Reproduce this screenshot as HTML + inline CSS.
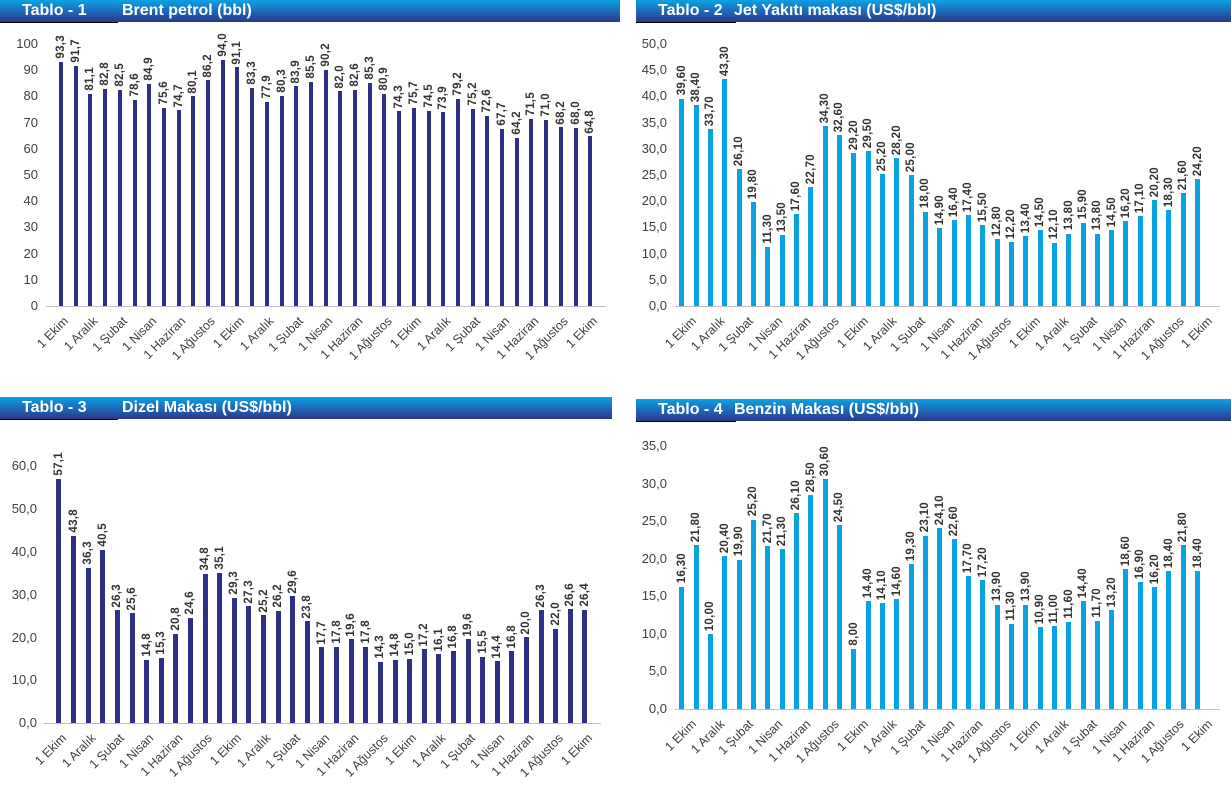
<!DOCTYPE html>
<html><head><meta charset="utf-8"><style>
body{margin:0;width:1231px;height:806px;background:#fff;position:relative;overflow:hidden;font-family:"Liberation Sans",Arial,sans-serif}
.hd{position:absolute;height:22px;background:linear-gradient(#0aa3e2,#1d6fbf 45%,#2a3888);color:#fff;font-weight:bold;font-size:16px;line-height:21px}
.hd b{position:absolute;left:22px}
.hd em{font-style:normal;position:absolute;left:122px}
.ul{position:absolute;height:1px;background:#000}
.bars{position:absolute;display:flex;align-items:flex-end}
.c{flex:1;display:flex;flex-direction:column;align-items:center;justify-content:flex-end}
.c span{writing-mode:vertical-rl;transform:rotate(180deg);font-size:11.5px;font-weight:bold;color:#333;margin-bottom:3px;white-space:nowrap;letter-spacing:0.3px}
.c i{display:block;width:var(--w);height:calc(var(--v)*var(--s));background:var(--col)}
.yl{position:absolute;width:60px;text-align:right;font-size:13px;color:#404040;height:16px;line-height:16px}
.xl{position:absolute;display:flex}
.xl div{flex:1;position:relative;height:10px}
.xl span{position:absolute;right:50%;top:0;white-space:nowrap;font-size:12.5px;color:#404040;transform-origin:100% 0;transform:rotate(-45deg)}
.ax{position:absolute;height:1px;background:#bfbfbf}
</style></head><body>

<div class="hd" style="left:0;top:0;width:620px"><b>Tablo - 1</b><em>Brent petrol (bbl)</em></div>
<div class="ul" style="left:0;top:22px;width:118px"></div>
<div class="hd" style="left:636px;top:0;width:595px"><b>Tablo - 2</b><em style="left:98px">Jet Yakıtı makası (US$/bbl)</em></div>
<div class="ul" style="left:636px;top:22px;width:100px"></div>
<div class="hd" style="left:0;top:397px;width:612px"><b>Tablo - 3</b><em>Dizel Makası (US$/bbl)</em></div>
<div class="ul" style="left:0;top:419px;width:118px"></div>
<div class="hd" style="left:636px;top:399px;width:595px"><b>Tablo - 4</b><em style="left:98px">Benzin Makası (US$/bbl)</em></div>
<div class="ul" style="left:636px;top:421px;width:100px"></div>

<!-- Chart 1 -->
<div class="ax" style="left:46px;top:306px;width:560px"></div>
<div class="yl" style="left:-22px;top:298px">0</div>
<div class="yl" style="left:-22px;top:272px">10</div>
<div class="yl" style="left:-22px;top:246px">20</div>
<div class="yl" style="left:-22px;top:219px">30</div>
<div class="yl" style="left:-22px;top:193px">40</div>
<div class="yl" style="left:-22px;top:167px">50</div>
<div class="yl" style="left:-22px;top:141px">60</div>
<div class="yl" style="left:-22px;top:115px">70</div>
<div class="yl" style="left:-22px;top:88px">80</div>
<div class="yl" style="left:-22px;top:62px">90</div>
<div class="yl" style="left:-22px;top:36px">100</div>
<div class="bars" style="left:53.65px;top:0;width:543.9px;height:306px;--s:2.62px;--w:4px;--col:#2e3087">
<div class="c" style="--v:93.3"><span>93,3</span><i></i></div>
<div class="c" style="--v:91.7"><span>91,7</span><i></i></div>
<div class="c" style="--v:81.1"><span>81,1</span><i></i></div>
<div class="c" style="--v:82.8"><span>82,8</span><i></i></div>
<div class="c" style="--v:82.5"><span>82,5</span><i></i></div>
<div class="c" style="--v:78.6"><span>78,6</span><i></i></div>
<div class="c" style="--v:84.9"><span>84,9</span><i></i></div>
<div class="c" style="--v:75.6"><span>75,6</span><i></i></div>
<div class="c" style="--v:74.7"><span>74,7</span><i></i></div>
<div class="c" style="--v:80.1"><span>80,1</span><i></i></div>
<div class="c" style="--v:86.2"><span>86,2</span><i></i></div>
<div class="c" style="--v:94.0"><span>94,0</span><i></i></div>
<div class="c" style="--v:91.1"><span>91,1</span><i></i></div>
<div class="c" style="--v:83.3"><span>83,3</span><i></i></div>
<div class="c" style="--v:77.9"><span>77,9</span><i></i></div>
<div class="c" style="--v:80.3"><span>80,3</span><i></i></div>
<div class="c" style="--v:83.9"><span>83,9</span><i></i></div>
<div class="c" style="--v:85.5"><span>85,5</span><i></i></div>
<div class="c" style="--v:90.2"><span>90,2</span><i></i></div>
<div class="c" style="--v:82.0"><span>82,0</span><i></i></div>
<div class="c" style="--v:82.6"><span>82,6</span><i></i></div>
<div class="c" style="--v:85.3"><span>85,3</span><i></i></div>
<div class="c" style="--v:80.9"><span>80,9</span><i></i></div>
<div class="c" style="--v:74.3"><span>74,3</span><i></i></div>
<div class="c" style="--v:75.7"><span>75,7</span><i></i></div>
<div class="c" style="--v:74.5"><span>74,5</span><i></i></div>
<div class="c" style="--v:73.9"><span>73,9</span><i></i></div>
<div class="c" style="--v:79.2"><span>79,2</span><i></i></div>
<div class="c" style="--v:75.2"><span>75,2</span><i></i></div>
<div class="c" style="--v:72.6"><span>72,6</span><i></i></div>
<div class="c" style="--v:67.7"><span>67,7</span><i></i></div>
<div class="c" style="--v:64.2"><span>64,2</span><i></i></div>
<div class="c" style="--v:71.5"><span>71,5</span><i></i></div>
<div class="c" style="--v:71.0"><span>71,0</span><i></i></div>
<div class="c" style="--v:68.2"><span>68,2</span><i></i></div>
<div class="c" style="--v:68.0"><span>68,0</span><i></i></div>
<div class="c" style="--v:64.8"><span>64,8</span><i></i></div>
</div>
<div class="xl" style="left:46.3px;top:314px;width:558.6px">
<div><span>1 Ekim</span></div><div><span>1 Aralık</span></div><div><span>1 Şubat</span></div><div><span>1 Nisan</span></div><div><span>1 Haziran</span></div><div><span>1 Ağustos</span></div>
<div><span>1 Ekim</span></div><div><span>1 Aralık</span></div><div><span>1 Şubat</span></div><div><span>1 Nisan</span></div><div><span>1 Haziran</span></div><div><span>1 Ağustos</span></div>
<div><span>1 Ekim</span></div><div><span>1 Aralık</span></div><div><span>1 Şubat</span></div><div><span>1 Nisan</span></div><div><span>1 Haziran</span></div><div><span>1 Ağustos</span></div>
<div><span>1 Ekim</span></div>
</div>

<!-- Chart 2 -->
<div class="ax" style="left:675px;top:306px;width:545px"></div>
<div class="yl" style="left:607px;top:298px">0,0</div>
<div class="yl" style="left:607px;top:272px">5,0</div>
<div class="yl" style="left:607px;top:246px">10,0</div>
<div class="yl" style="left:607px;top:219px">15,0</div>
<div class="yl" style="left:607px;top:193px">20,0</div>
<div class="yl" style="left:607px;top:167px">25,0</div>
<div class="yl" style="left:607px;top:141px">30,0</div>
<div class="yl" style="left:607px;top:115px">35,0</div>
<div class="yl" style="left:607px;top:88px">40,0</div>
<div class="yl" style="left:607px;top:62px">45,0</div>
<div class="yl" style="left:607px;top:36px">50,0</div>
<div class="bars" style="left:674.67px;top:0;width:530.3px;height:306px;--s:5.24px;--w:5px;--col:#0aa3e2">
<div class="c" style="--v:39.6"><span>39,60</span><i></i></div>
<div class="c" style="--v:38.4"><span>38,40</span><i></i></div>
<div class="c" style="--v:33.7"><span>33,70</span><i></i></div>
<div class="c" style="--v:43.3"><span>43,30</span><i></i></div>
<div class="c" style="--v:26.1"><span>26,10</span><i></i></div>
<div class="c" style="--v:19.8"><span>19,80</span><i></i></div>
<div class="c" style="--v:11.3"><span>11,30</span><i></i></div>
<div class="c" style="--v:13.5"><span>13,50</span><i></i></div>
<div class="c" style="--v:17.6"><span>17,60</span><i></i></div>
<div class="c" style="--v:22.7"><span>22,70</span><i></i></div>
<div class="c" style="--v:34.3"><span>34,30</span><i></i></div>
<div class="c" style="--v:32.6"><span>32,60</span><i></i></div>
<div class="c" style="--v:29.2"><span>29,20</span><i></i></div>
<div class="c" style="--v:29.5"><span>29,50</span><i></i></div>
<div class="c" style="--v:25.2"><span>25,20</span><i></i></div>
<div class="c" style="--v:28.2"><span>28,20</span><i></i></div>
<div class="c" style="--v:25.0"><span>25,00</span><i></i></div>
<div class="c" style="--v:18.0"><span>18,00</span><i></i></div>
<div class="c" style="--v:14.9"><span>14,90</span><i></i></div>
<div class="c" style="--v:16.4"><span>16,40</span><i></i></div>
<div class="c" style="--v:17.4"><span>17,40</span><i></i></div>
<div class="c" style="--v:15.5"><span>15,50</span><i></i></div>
<div class="c" style="--v:12.8"><span>12,80</span><i></i></div>
<div class="c" style="--v:12.2"><span>12,20</span><i></i></div>
<div class="c" style="--v:13.4"><span>13,40</span><i></i></div>
<div class="c" style="--v:14.5"><span>14,50</span><i></i></div>
<div class="c" style="--v:12.1"><span>12,10</span><i></i></div>
<div class="c" style="--v:13.8"><span>13,80</span><i></i></div>
<div class="c" style="--v:15.9"><span>15,90</span><i></i></div>
<div class="c" style="--v:13.8"><span>13,80</span><i></i></div>
<div class="c" style="--v:14.5"><span>14,50</span><i></i></div>
<div class="c" style="--v:16.2"><span>16,20</span><i></i></div>
<div class="c" style="--v:17.1"><span>17,10</span><i></i></div>
<div class="c" style="--v:20.2"><span>20,20</span><i></i></div>
<div class="c" style="--v:18.3"><span>18,30</span><i></i></div>
<div class="c" style="--v:21.6"><span>21,60</span><i></i></div>
<div class="c" style="--v:24.2"><span>24,20</span><i></i></div>
</div>
<div class="xl" style="left:674.67px;top:314px;width:544.7px">
<div><span>1 Ekim</span></div><div><span>1 Aralık</span></div><div><span>1 Şubat</span></div><div><span>1 Nisan</span></div><div><span>1 Haziran</span></div><div><span>1 Ağustos</span></div>
<div><span>1 Ekim</span></div><div><span>1 Aralık</span></div><div><span>1 Şubat</span></div><div><span>1 Nisan</span></div><div><span>1 Haziran</span></div><div><span>1 Ağustos</span></div>
<div><span>1 Ekim</span></div><div><span>1 Aralık</span></div><div><span>1 Şubat</span></div><div><span>1 Nisan</span></div><div><span>1 Haziran</span></div><div><span>1 Ağustos</span></div>
<div><span>1 Ekim</span></div>
</div>

<!-- Chart 3 -->
<div class="ax" style="left:44px;top:723px;width:557px"></div>
<div class="yl" style="left:-23px;top:715px">0,0</div>
<div class="yl" style="left:-23px;top:672px">10,0</div>
<div class="yl" style="left:-23px;top:630px">20,0</div>
<div class="yl" style="left:-23px;top:587px">30,0</div>
<div class="yl" style="left:-23px;top:544px">40,0</div>
<div class="yl" style="left:-23px;top:501px">50,0</div>
<div class="yl" style="left:-23px;top:458px">60,0</div>
<div class="bars" style="left:51.7px;top:400px;width:540.6px;height:323px;--s:4.28px;--w:5px;--col:#2e3087">
<div class="c" style="--v:57.1"><span>57,1</span><i></i></div>
<div class="c" style="--v:43.8"><span>43,8</span><i></i></div>
<div class="c" style="--v:36.3"><span>36,3</span><i></i></div>
<div class="c" style="--v:40.5"><span>40,5</span><i></i></div>
<div class="c" style="--v:26.3"><span>26,3</span><i></i></div>
<div class="c" style="--v:25.6"><span>25,6</span><i></i></div>
<div class="c" style="--v:14.8"><span>14,8</span><i></i></div>
<div class="c" style="--v:15.3"><span>15,3</span><i></i></div>
<div class="c" style="--v:20.8"><span>20,8</span><i></i></div>
<div class="c" style="--v:24.6"><span>24,6</span><i></i></div>
<div class="c" style="--v:34.8"><span>34,8</span><i></i></div>
<div class="c" style="--v:35.1"><span>35,1</span><i></i></div>
<div class="c" style="--v:29.3"><span>29,3</span><i></i></div>
<div class="c" style="--v:27.3"><span>27,3</span><i></i></div>
<div class="c" style="--v:25.2"><span>25,2</span><i></i></div>
<div class="c" style="--v:26.2"><span>26,2</span><i></i></div>
<div class="c" style="--v:29.6"><span>29,6</span><i></i></div>
<div class="c" style="--v:23.8"><span>23,8</span><i></i></div>
<div class="c" style="--v:17.7"><span>17,7</span><i></i></div>
<div class="c" style="--v:17.8"><span>17,8</span><i></i></div>
<div class="c" style="--v:19.6"><span>19,6</span><i></i></div>
<div class="c" style="--v:17.8"><span>17,8</span><i></i></div>
<div class="c" style="--v:14.3"><span>14,3</span><i></i></div>
<div class="c" style="--v:14.8"><span>14,8</span><i></i></div>
<div class="c" style="--v:15.0"><span>15,0</span><i></i></div>
<div class="c" style="--v:17.2"><span>17,2</span><i></i></div>
<div class="c" style="--v:16.1"><span>16,1</span><i></i></div>
<div class="c" style="--v:16.8"><span>16,8</span><i></i></div>
<div class="c" style="--v:19.6"><span>19,6</span><i></i></div>
<div class="c" style="--v:15.5"><span>15,5</span><i></i></div>
<div class="c" style="--v:14.4"><span>14,4</span><i></i></div>
<div class="c" style="--v:16.8"><span>16,8</span><i></i></div>
<div class="c" style="--v:20.0"><span>20,0</span><i></i></div>
<div class="c" style="--v:26.3"><span>26,3</span><i></i></div>
<div class="c" style="--v:22.0"><span>22,0</span><i></i></div>
<div class="c" style="--v:26.6"><span>26,6</span><i></i></div>
<div class="c" style="--v:26.4"><span>26,4</span><i></i></div>
</div>
<div class="xl" style="left:44.4px;top:731px;width:555.2px">
<div><span>1 Ekim</span></div><div><span>1 Aralık</span></div><div><span>1 Şubat</span></div><div><span>1 Nisan</span></div><div><span>1 Haziran</span></div><div><span>1 Ağustos</span></div>
<div><span>1 Ekim</span></div><div><span>1 Aralık</span></div><div><span>1 Şubat</span></div><div><span>1 Nisan</span></div><div><span>1 Haziran</span></div><div><span>1 Ağustos</span></div>
<div><span>1 Ekim</span></div><div><span>1 Aralık</span></div><div><span>1 Şubat</span></div><div><span>1 Nisan</span></div><div><span>1 Haziran</span></div><div><span>1 Ağustos</span></div>
<div><span>1 Ekim</span></div>
</div>

<!-- Chart 4 -->
<div class="ax" style="left:675px;top:709px;width:545px"></div>
<div class="yl" style="left:607px;top:701px">0,0</div>
<div class="yl" style="left:607px;top:663px">5,0</div>
<div class="yl" style="left:607px;top:626px">10,0</div>
<div class="yl" style="left:607px;top:588px">15,0</div>
<div class="yl" style="left:607px;top:551px">20,0</div>
<div class="yl" style="left:607px;top:513px">25,0</div>
<div class="yl" style="left:607px;top:476px">30,0</div>
<div class="yl" style="left:607px;top:438px">35,0</div>
<div class="bars" style="left:674.67px;top:400px;width:530.3px;height:309px;--s:7.51px;--w:5px;--col:#0aa3e2">
<div class="c" style="--v:16.3"><span>16,30</span><i></i></div>
<div class="c" style="--v:21.8"><span>21,80</span><i></i></div>
<div class="c" style="--v:10.0"><span>10,00</span><i></i></div>
<div class="c" style="--v:20.4"><span>20,40</span><i></i></div>
<div class="c" style="--v:19.9"><span>19,90</span><i></i></div>
<div class="c" style="--v:25.2"><span>25,20</span><i></i></div>
<div class="c" style="--v:21.7"><span>21,70</span><i></i></div>
<div class="c" style="--v:21.3"><span>21,30</span><i></i></div>
<div class="c" style="--v:26.1"><span>26,10</span><i></i></div>
<div class="c" style="--v:28.5"><span>28,50</span><i></i></div>
<div class="c" style="--v:30.6"><span>30,60</span><i></i></div>
<div class="c" style="--v:24.5"><span>24,50</span><i></i></div>
<div class="c" style="--v:8.0"><span>8,00</span><i></i></div>
<div class="c" style="--v:14.4"><span>14,40</span><i></i></div>
<div class="c" style="--v:14.1"><span>14,10</span><i></i></div>
<div class="c" style="--v:14.6"><span>14,60</span><i></i></div>
<div class="c" style="--v:19.3"><span>19,30</span><i></i></div>
<div class="c" style="--v:23.1"><span>23,10</span><i></i></div>
<div class="c" style="--v:24.1"><span>24,10</span><i></i></div>
<div class="c" style="--v:22.6"><span>22,60</span><i></i></div>
<div class="c" style="--v:17.7"><span>17,70</span><i></i></div>
<div class="c" style="--v:17.2"><span>17,20</span><i></i></div>
<div class="c" style="--v:13.9"><span>13,90</span><i></i></div>
<div class="c" style="--v:11.3"><span>11,30</span><i></i></div>
<div class="c" style="--v:13.9"><span>13,90</span><i></i></div>
<div class="c" style="--v:10.9"><span>10,90</span><i></i></div>
<div class="c" style="--v:11.0"><span>11,00</span><i></i></div>
<div class="c" style="--v:11.6"><span>11,60</span><i></i></div>
<div class="c" style="--v:14.4"><span>14,40</span><i></i></div>
<div class="c" style="--v:11.7"><span>11,70</span><i></i></div>
<div class="c" style="--v:13.2"><span>13,20</span><i></i></div>
<div class="c" style="--v:18.6"><span>18,60</span><i></i></div>
<div class="c" style="--v:16.9"><span>16,90</span><i></i></div>
<div class="c" style="--v:16.2"><span>16,20</span><i></i></div>
<div class="c" style="--v:18.4"><span>18,40</span><i></i></div>
<div class="c" style="--v:21.8"><span>21,80</span><i></i></div>
<div class="c" style="--v:18.4"><span>18,40</span><i></i></div>
</div>
<div class="xl" style="left:674.67px;top:717px;width:544.7px">
<div><span>1 Ekim</span></div><div><span>1 Aralık</span></div><div><span>1 Şubat</span></div><div><span>1 Nisan</span></div><div><span>1 Haziran</span></div><div><span>1 Ağustos</span></div>
<div><span>1 Ekim</span></div><div><span>1 Aralık</span></div><div><span>1 Şubat</span></div><div><span>1 Nisan</span></div><div><span>1 Haziran</span></div><div><span>1 Ağustos</span></div>
<div><span>1 Ekim</span></div><div><span>1 Aralık</span></div><div><span>1 Şubat</span></div><div><span>1 Nisan</span></div><div><span>1 Haziran</span></div><div><span>1 Ağustos</span></div>
<div><span>1 Ekim</span></div>
</div>
</body></html>
